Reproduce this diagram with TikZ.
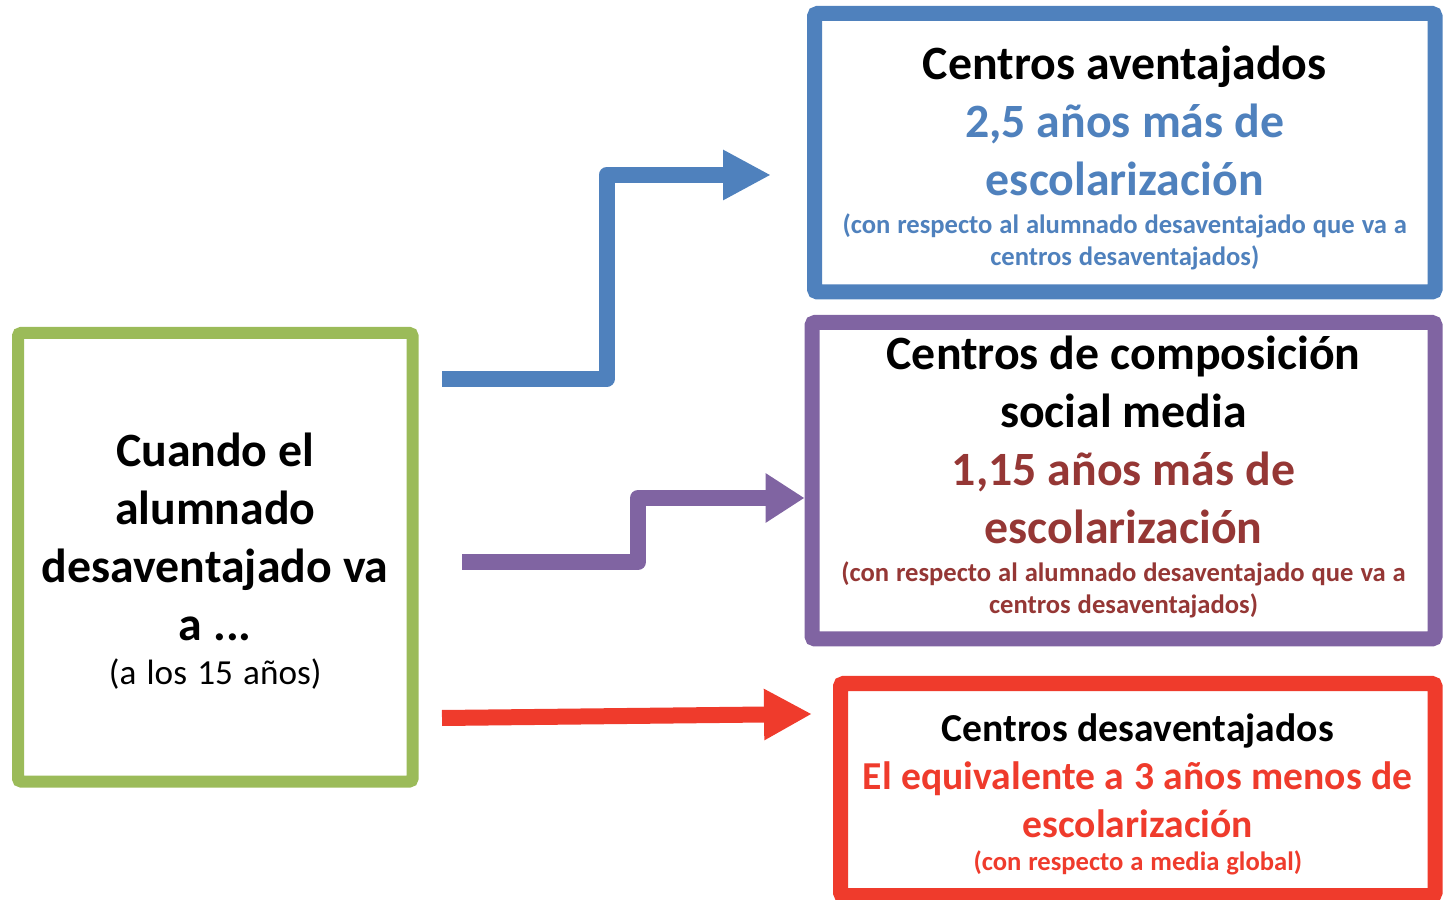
\documentclass[tikz,border=0pt]{standalone}
\usepackage{fontspec}
\setmainfont{Carlito}
\usepackage{tikz}
\usetikzlibrary{calc, arrows.meta, positioning}
\tikzset{
    boxnode/.style = {draw, rectangle, line width=7.5pt, rounded corners=1.5pt, fill=white,
      inner sep=0pt, node distance=0em, align=center},
    flecha/.style = {line width=8pt, line join=round},
    every text node part/.style={align=center}
}
\definecolor{verde}{RGB}{155,187,89}
\definecolor{azul}{RGB}{79,129,189}
\definecolor{morado}{RGB}{128,100,162}
\definecolor{rojo}{RGB}{239,59,44}
\definecolor{granate}{RGB}{149,55,53}
\newcommand{\grande}{\fontsize{23.9pt}{29pt}\selectfont\bfseries\spaceskip=0.23em\relax}
\newcommand{\mediano}{\fontsize{19.8pt}{24pt}\selectfont\bfseries\spaceskip=0.245em\relax}
\newcommand{\chico}{\fontsize{13.3pt}{16pt}\selectfont\bfseries\spaceskip=0.26em\relax}
\newcommand{\medio}{\fontsize{17.6pt}{22pt}\selectfont\mdseries\spaceskip=0.29em\relax}

\begin{document}
\begin{tikzpicture}
\useasboundingbox (0,0) rectangle (721.5pt,449.5pt);

\node[boxnode, name=alumnado, draw=verde, line width=6pt, text width=190pt,
	minimum width=197.25pt, minimum height=224.25pt] at (107.625pt,170.875pt)
	{{\grande\rule{0pt}{21pt}Cuando el\\alumnado\\desaventajado va\\a ...\par}
	 {\medio (a los 15 años)\par}};

\node[boxnode, name=aventajados, draw=azul, right of = alumnado, xshift=454.75pt, yshift=202.25pt,
	text width=300pt, minimum width=310.25pt, minimum height=139.25pt]
	{{\grande\rule{0pt}{21.7pt}Centros aventajados\par}
	 {\grande\color{azul}2,5 años más de\\escolarización\par}
	 \vspace{3pt}{\chico\color{azul}(con respecto al alumnado desaventajado que va a\\centros desaventajados)\par}};

\node[boxnode, name=composicion, draw=morado, right of = alumnado, xshift=454.125pt, yshift=38.25pt,
	text width=300pt, minimum width=311.5pt, minimum height=158.25pt]
	{{\grande Centros de composición\\social media\par}
	 {\grande\color{granate}1,15 años más de\\escolarización\par}
	 \vspace{3pt}{\chico\color{granate}(con respecto al alumnado desaventajado que va a\\centros desaventajados)\rule[-6.2pt]{0pt}{6.2pt}\par}};

\node[boxnode, name=desaventajados, draw=rojo, right of = alumnado, xshift=461.25pt, yshift=-116.125pt,
	text width=290pt, minimum width=297.25pt, minimum height=106pt]
	{{\mediano\rule{0pt}{19pt}Centros desaventajados\par}
	 {\mediano\color{rojo}El equivalente a 3 años menos de\\escolarización\par}
	 \vspace{0.5pt}{\chico\color{rojo}(con respecto a media global)\par}};

% flechas
\draw[flecha, azul, -{Triangle[length=24pt, width=23.5pt]}] ($(alumnado.east)+(11.75pt,89.125pt)$)
	-| ($(aventajados.west)+(-100.25pt,-50pt)$) |- ($(aventajados.west)+(-18pt,-11.125pt)$);
\draw[flecha, morado, -{Triangle[length=19.5pt, width=23.5pt]}] ($(alumnado.east)+(21.75pt,-2.375pt)$)
	-| ($(composicion.west)+(-83.25pt,-20pt)$) |- ($(composicion.west)+(0pt,-8.625pt)$);
\draw[flecha, rojo, -{Triangle[length=24pt, width=24pt]}] ($(alumnado.east)+(11.75pt,-80.375pt)$)
	-- ($(desaventajados.west)+(-10.5pt,37.75pt)$);
\end{tikzpicture}
\end{document}
